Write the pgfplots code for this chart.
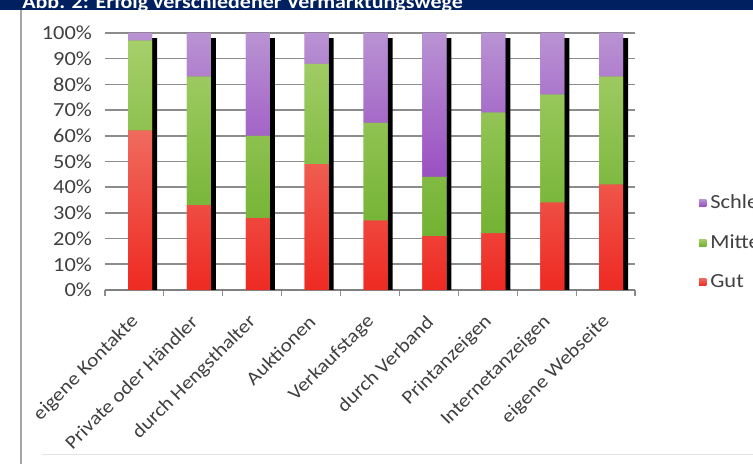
\documentclass[border=0pt]{standalone}
\usepackage{pgfplots}
\pgfplotsset{compat=1.18}
\usepackage{fontspec}
\setmainfont{Carlito}[FakeStretch=1.12]
\definecolor{titlebg}{HTML}{002060}
\definecolor{txt}{HTML}{404040}
\definecolor{gutb}{HTML}{EE2A22}
\definecolor{gutt}{HTML}{F06A5E}
\definecolor{mitb}{HTML}{72B232}
\definecolor{mitt}{HTML}{A6CF6A}
\definecolor{schb}{HTML}{9A50C2}
\definecolor{scht}{HTML}{B993D3}

\begin{document}
\begin{tikzpicture}
\useasboundingbox (0,0) rectangle (376.5pt,232pt);
\clip (0,0) rectangle (376.5pt,232pt);
\fill[white] (0,0) rectangle (376.5pt,232pt);
% title bar
\fill[titlebg] (0,227pt) rectangle (376.5pt,232pt);
\node[anchor=base west, inner sep=0pt, text=white, font=\bfseries\fontsize{9.8}{11}\selectfont]
  at (11pt,227.5pt) {Abb. 2: Erfolg verschiedener Vermarktungswege};
% frame
\draw[black!35, line width=1pt] (10.5pt,0) -- (10.5pt,227pt);
\draw[black!10, line width=0.5pt] (21pt,4.5pt) -- (376.5pt,4.5pt);

% grid, ticks, labels and the dark side of the bars
\begin{axis}[
  at={(52.5pt,87pt)}, anchor=south west,
  width=265pt, height=128.5pt, scale only axis,
  xmin=-0.5, xmax=8.5, ymin=0, ymax=100,
  axis x line*=bottom, axis y line*=left,
  x axis line style={draw=black!50, line width=0.8pt, -},
  y axis line style={draw=none},
  ytick={0,10,...,100},
  yticklabel={\pgfmathprintnumber{\tick}\%},
  /pgf/number format/assume math mode=true,
  ymajorgrids, grid style={black!45, line width=0.8pt},
  major tick length=0pt,
  xtick={0,...,8},
  minor xtick={-0.5,0.5,...,8.5},
  minor tick length=3pt, tick align=outside,
  minor x tick style={black!45, line width=0.6pt},
  xticklabels={eigene Kontakte, Private oder Händler, durch Hengsthalter,
    Auktionen, Verkaufstage, durch Verband, Printanzeigen,
    Internetanzeigen, eigene Webseite},
  xticklabel style={xshift=3pt, yshift=-12pt, rotate=45, anchor=east,
    text=txt, font=\fontsize{9.5}{11}\selectfont},
  yticklabel style={text=txt, font=\fontsize{10}{11}\selectfont, xshift=-3pt},
]
\addplot[ybar, bar width=2.6pt, bar shift=10pt, fill=black, draw=none]
  coordinates {(0,98) (1,98) (2,98) (3,98) (4,98) (5,98) (6,98) (7,98) (8,98)};
\end{axis}

% stacked bars
\begin{axis}[
  at={(52.5pt,87pt)}, anchor=south west,
  width=265pt, height=128.5pt, scale only axis,
  xmin=-0.5, xmax=8.5, ymin=0, ymax=100,
  hide axis,
  ybar stacked, bar width=12pt, bar shift=2.8pt,
  reverse legend,
  legend cell align=left,
  legend style={at={(1.109,0.405)}, anchor=north west, draw=none, fill=none,
    font=\fontsize{10}{11}\selectfont, text=txt, row sep=7.5pt,
    /tikz/every even column/.append style={column sep=2pt}},
  legend image code/.code={\fill[#1] (0pt,-1.8pt) rectangle (3.6pt,1.8pt);},
]
\addplot[draw=none, fill=gutb, bottom color=gutb, top color=gutt]
  coordinates {(0,62) (1,33) (2,28) (3,49) (4,27) (5,21) (6,22) (7,34) (8,41)};
\addlegendentry{Gut}
\addplot[draw=none, fill=mitb, bottom color=mitb, top color=mitt]
  coordinates {(0,35) (1,50) (2,32) (3,39) (4,38) (5,23) (6,47) (7,42) (8,42)};
\addlegendentry{Mittel}
\addplot[draw=none, fill=schb, bottom color=schb, top color=scht]
  coordinates {(0,3) (1,17) (2,40) (3,12) (4,35) (5,56) (6,31) (7,24) (8,17)};
\addlegendentry{Schlecht}
\end{axis}
\end{tikzpicture}
\end{document}
